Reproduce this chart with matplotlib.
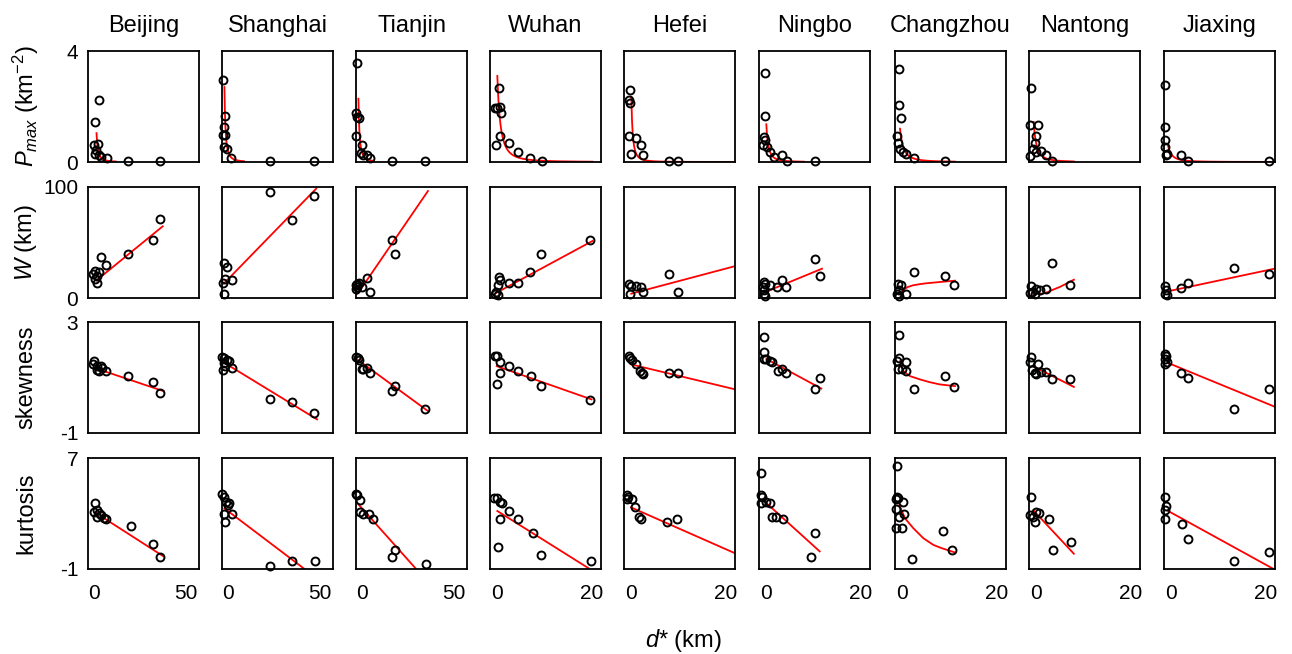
import numpy as np
import matplotlib
matplotlib.use("Agg")
import matplotlib.pyplot as plt

plt.rcParams['font.family'] = ['Liberation Sans', 'DejaVu Sans']
plt.rcParams['mathtext.fontset'] = 'custom'
plt.rcParams['mathtext.rm'] = 'Liberation Sans'
plt.rcParams['mathtext.it'] = 'Liberation Sans:italic'

# ---------------- data ----------------
cities = ["Beijing", "Shanghai", "Tianjin", "Wuhan", "Hefei", "Ningbo",
          "Changzhou", "Nantong", "Jiaxing"]
row_labels = [r"$P_{max}$ (km$^{-2}$)", r"$W$ (km)", "skewness", "kurtosis"]
x_label = r"$d$* (km)"
y_ticks = [[0, 4], [0, 100], [-1, 3], [-1, 7]]
x_ticks_large = [0, 50]
x_ticks_small = [0, 20]

# Row 1: P_max
d_pmax = [
    [2.9, 0.7, 0.1, 2.3, 1.4, 0.7, 2.9, 3.8, 7.1, 18.5, 35.9],
    [-2.45, -1.53, -1.71, -2.45, -1.16, -2.08, -0.24, 1.96, 22.7, 46.6],
    [-2.63, -3.0, -2.3, -1.2, -3.0, 0.1, -0.43, 1.04, 2.9, 4.7, 16.7, 34.5],
    [0.48, -0.44, 0.05, 0.62, 0.76, 0.62, -0.23, 2.52, 4.36, 6.97, 9.44],
    [-0.3, -0.44, -0.16, -0.44, 1.11, 2.03, 0.05, 2.52, 8.03, 9.94],
    [-0.3, -0.3, -0.51, -0.16, -0.65, 0.19, 0.9, 1.75, 3.37, 4.43, 10.43],
    [-0.65, -0.65, -0.23, -1.0, -0.79, -0.44, 0.12, 0.83, 2.6, 9.1],
    [-1.15, -1.36, 0.41, -0.09, -0.3, -0.65, -1.22, -0.09, 1.11, 2.17, 3.44],
    [-1.29, -1.29, -1.29, -1.29, -1.08, -0.79, 2.03, 3.65, 20.7],
]
pmax = [
    [2.22, 1.43, 0.6, 0.66, 0.45, 0.3, 0.24, 0.18, 0.13, 0.04, 0.04],
    [2.95, 1.66, 1.26, 0.96, 0.96, 0.54, 0.47, 0.15, 0.04, 0.04],
    [3.58, 1.75, 1.63, 1.57, 0.93, 0.6, 0.32, 0.24, 0.24, 0.15, 0.04, 0.04],
    [2.68, 1.93, 1.93, 1.99, 1.75, 0.93, 0.62, 0.68, 0.36, 0.15, 0.04],
    [2.61, 2.23, 2.13, 0.93, 0.88, 0.6, 0.3, 0.24, 0.04, 0.04],
    [3.2, 1.65, 0.9, 0.78, 0.63, 0.54, 0.36, 0.18, 0.24, 0.04, 0.04],
    [3.36, 2.06, 1.57, 0.93, 0.68, 0.47, 0.36, 0.28, 0.15, 0.04],
    [2.68, 1.33, 1.33, 0.93, 0.68, 0.47, 0.2, 0.36, 0.4, 0.24, 0.04],
    [2.79, 1.27, 0.78, 0.54, 0.24, 0.3, 0.24, 0.04, 0.04],
]
# decay fit: start x, end x, start value, scale
pmax_fit_xs = [1.6, -1.7, -1.7, 0.05, 0.05, 0.05, -0.44, -0.51, -0.72]
pmax_fit_xe = [12.0, 8.9, 6.5, 20.2, 22.1, 8.0, 11.2, 8.0, 21.7]
pmax_fit_y0 = [1.04, 2.70, 2.28, 3.10, 2.34, 1.36, 1.20, 1.44, 0.65]
pmax_fit_c = [1.6, 1.2, 1.25, 1.3, 0.575, 0.83, 1.4, 1.14, 1.47]

# Row 2: W
d_w = [
    [-0.2, 1.0, 2.0, 0.7, 2.0, 3.1, 4.2, 6.6, 18.5, 32.3, 35.9],
    [-1.71, -0.24, -2.45, -1.16, 2.14, -1.71, 22.7, 34.7, 46.6],
    [-3.0, -2.3, -2.6, -1.2, 2.9, 4.3, 16.7, 17.9, -3.2, 0.1],
    [0.48, 0.62, 0.27, -0.23, 0.27, -0.44, 2.52, 4.36, 6.97, 9.3, 19.7],
    [-0.44, 0.05, -0.3, 1.11, 2.17, 2.52, 8.03, 9.94],
    [-0.51, -0.16, -0.65, -0.37, -0.51, -0.3, 0.9, 2.31, 3.37, 4.29, 10.43, 11.35],
    [-0.79, -0.3, -0.58, -1.0, -0.58, 0.83, 2.6, 9.1, 11.0],
    [-1.15, -1.36, -0.79, 0.05, 0.76, 2.17, 3.44, 7.1, -0.3],
    [-1.29, -1.08, -1.29, -0.94, 2.03, 3.65, 13.3, 20.7],
]
w = [
    [21.9, 24.3, 19.5, 17.4, 13.5, 23.4, 36.9, 29.4, 39.9, 52.0, 71.5],
    [31.5, 27.9, 13.5, 17.4, 15.9, 3.9, 95.5, 70.0, 91.6],
    [11.4, 9.9, 12.9, 13.5, 18.3, 5.4, 52.0, 39.9, 8.4, 9.9],
    [18.9, 15.9, 11.4, 5.4, 3.0, 3.9, 13.5, 13.5, 23.4, 39.9, 52.0],
    [12.3, 10.5, 3.9, 10.5, 9.9, 5.4, 21.9, 5.4],
    [14.4, 12.9, 9.9, 6.9, 3.9, 1.5, 11.4, 9.9, 16.5, 9.9, 35.4, 19.5],
    [12.3, 11.4, 7.5, 3.9, 1.5, 3.3, 23.4, 19.5, 11.4],
    [10.5, 4.5, 5.4, 8.4, 7.5, 8.4, 31.5, 11.4, 3.9],
    [10.5, 7.5, 3.9, 2.4, 9.3, 13.5, 27.3, 21.3],
]
w_fit_x = [
    [1.6, 37.4], [-2.08, 47.9], [-2.1, 35.9], [-0.23, 20.2], [0.05, 22.1],
    [-0.16, 11.84],
    [-0.58, 0.3, 1.2, 2.3, 3.5, 5.0, 6.5, 8.0, 9.5, 11.2],
    [-0.65, 1.47, 2.5, 3.6, 5.0, 6.4, 8.0],
    [-0.72, 21.9],
]
w_fit_y = [
    [15.9, 64.6], [12.9, 98.5], [3.9, 96.4], [4.5, 51.4], [3.9, 28.8],
    [5.4, 26.4],
    [3.9, 7.5, 9.9, 11.4, 12.3, 13.2, 13.8, 14.4, 15.0, 15.6],
    [3.9, 3.9, 5.4, 7.5, 9.9, 12.9, 16.5],
    [6.0, 26.4],
]

# Row 3: skewness
d_skew = [
    [0.5, -0.2, 2.0, 3.8, 4.7, 2.0, 2.9, 6.6, 18.5, 32.3, 35.9],
    [-2.8, -1.71, -0.24, -2.08, -1.16, 0.67, -2.45, 2.5, 22.7, 34.7, 46.6],
    [-3.0, -1.7, -1.2, 0.1, 1.0, 2.9, 4.3, 16.7, 17.9, 34.5],
    [-0.44, -0.09, 0.62, 0.62, 0.05, 2.52, 4.36, 7.1, 9.3, 19.7],
    [-0.44, -0.16, 0.26, 1.11, 1.96, 2.38, 2.52, 8.03, 9.94],
    [-0.37, -0.37, -0.51, 0.05, 0.76, 1.25, 2.45, 3.37, 4.29, 10.43, 11.35],
    [-0.65, -0.58, -1.0, -0.79, -0.09, 0.83, 0.83, 2.6, 9.1, 11.0],
    [-1.15, -1.36, 0.41, -0.79, -0.09, -0.3, 1.11, 2.17, 3.44, 7.1],
    [-1.29, -1.08, -1.29, -0.94, -1.29, 2.03, 3.51, 13.3, 20.7],
]
skew = [
    [1.59, 1.47, 1.41, 1.43, 1.35, 1.26, 1.23, 1.23, 1.07, 0.84, 0.45],
    [1.73, 1.71, 1.62, 1.53, 1.41, 1.59, 1.26, 1.35, 0.21, 0.13, -0.29],
    [1.73, 1.71, 1.62, 1.31, 1.29, 1.35, 1.17, 0.51, 0.69, -0.13],
    [1.79, 1.77, 1.55, 1.17, 0.75, 1.41, 1.23, 1.07, 0.69, 0.19],
    [1.79, 1.71, 1.62, 1.50, 1.23, 1.17, 1.14, 1.17, 1.17],
    [2.45, 1.91, 1.65, 1.67, 1.59, 1.55, 1.23, 1.31, 1.17, 0.59, 0.99],
    [2.52, 1.71, 1.59, 1.31, 1.29, 1.55, 1.23, 0.59, 1.07, 0.66],
    [1.73, 1.55, 1.50, 1.26, 1.11, 1.17, 1.19, 1.19, 0.93, 0.93],
    [1.83, 1.77, 1.65, 1.55, 1.47, 1.17, 0.99, -0.13, 0.59],
]
skew_fit_x = [
    [1.6, 37.8], [-1.71, 48.4], [-2.3, 35.9], [-0.09, 20.0], [0.05, 22.1],
    [0.05, 11.7],
    [-0.44, 0.26, 1.68, 3.8, 5.9, 8.0, 11.2],
    [-0.65, 8.0],
    [-0.72, 21.9],
]
skew_fit_y = [
    [1.32, 0.51], [1.53, -0.51], [1.65, -0.21], [1.41, 0.21], [1.47, 0.57],
    [1.67, 0.60],
    [1.59, 1.23, 1.05, 0.93, 0.83, 0.75, 0.69],
    [1.41, 0.66],
    [1.53, -0.05],
]

# Row 4: kurtosis
d_kurt = [
    [0.7, 0.1, 2.0, 2.9, 1.6, 3.8, 5.6, 6.6, 20.3, 32.3, 35.9],
    [-2.8, -1.7, -0.6, 0.1, 0.67, -2.1, 2.5, -1.2, 22.7, 35.0, 47.0],
    [-3.0, -2.3, -0.8, -0.8, 1.0, 3.8, 6.2, 16.7, 17.9, 35.0],
    [-0.65, -0.09, 0.62, 0.97, 0.62, 2.52, 4.5, 7.7, 0.27, 9.4, 19.8],
    [-0.94, -0.65, -0.79, 0.27, 0.83, 1.68, 2.03, 7.5, 9.8],
    [-1.15, -1.15, -0.86, -1.15, 0.05, 0.76, 1.25, 2.17, 3.58, 10.43, 9.44],
    [-1.0, -1.0, -1.29, -0.79, -1.29, 0.27, 0.48, -0.58, -1.29, -0.09, 2.17, 8.74, 10.5],
    [-1.15, -1.36, -0.65, 0.05, 0.62, -0.3, 2.74, 3.58, 7.3],
    [-1.29, -1.08, -1.29, -1.29, 2.24, 3.65, 13.3, 20.7],
]
kurt = [
    [3.73, 3.13, 3.25, 3.01, 2.73, 2.89, 2.65, 2.58, 2.10, 0.81, -0.14],
    [4.37, 4.16, 3.85, 3.61, 3.73, 2.96, 2.96, 2.41, -0.76, -0.45, -0.45],
    [4.37, 4.33, 3.97, 3.13, 2.96, 2.96, 2.58, -0.14, 0.39, -0.62],
    [4.09, 4.09, 3.85, 3.73, 2.58, 3.18, 2.58, 1.63, 0.62, 0.03, -0.45],
    [4.33, 4.21, 4.01, 4.01, 3.44, 2.73, 2.58, 2.41, 2.58],
    [5.93, 4.33, 4.21, 3.73, 3.85, 3.73, 2.73, 2.73, 2.58, 1.63, -0.14],
    [6.40, 4.16, 4.01, 4.09, 3.32, 3.85, 2.96, 2.73, 1.94, 1.94, -0.28, 1.77, 0.34],
    [4.16, 2.89, 2.73, 3.13, 3.01, 2.41, 2.58, 0.34, 0.98],
    [4.21, 3.54, 3.25, 2.58, 2.25, 1.15, -0.45, 0.19],
]
kurt_fit_x = [
    [1.6, 37.8], [-1.7, 41.6], [-1.7, 29.5], [0.05, 19.3], [0.0, 21.9],
    [-0.65, 11.35],
    [-0.58, 0.62, 2.38, 4.5, 6.6, 8.4, 11.2],
    [-0.51, 8.0],
    [-0.72, 21.7],
]
kurt_fit_y = [
    [3.01, -0.09], [3.37, -1.0], [3.66, -1.0], [3.18, -0.93], [3.44, 0.15],
    [3.97, 0.27],
    [3.61, 2.65, 1.94, 1.22, 0.74, 0.50, 0.19],
    [3.2, 0.10],
    [3.20, -1.0],
]

# ---------------- layout ----------------
W, H = 1292, 654
fig = plt.figure(figsize=(W / 100, H / 100), dpi=100)
col_left = [88, 222, 356, 490, 624, 759, 895, 1029, 1164]
row_top = [51, 187, 322, 458]
pw, ph = 111, 111
xlim_large = (-3, 57)
xlim_small = (-1.5, 22)

pts = [(d_pmax, pmax), (d_w, w), (d_skew, skew), (d_kurt, kurt)]
fits = [None, (w_fit_x, w_fit_y), (skew_fit_x, skew_fit_y), (kurt_fit_x, kurt_fit_y)]

for r in range(4):
    for c in range(9):
        ax = fig.add_axes([col_left[c] / W, 1 - (row_top[r] + ph) / H, pw / W, ph / H])
        large = c < 3
        ax.set_xlim(*(xlim_large if large else xlim_small))
        ax.set_ylim(y_ticks[r][0], y_ticks[r][1])
        for s in ax.spines.values():
            s.set_linewidth(1.3)
            s.set_color('black')
        # fit
        if r == 0:
            xs, xe = pmax_fit_xs[c], pmax_fit_xe[c]
            y0, cc = pmax_fit_y0[c], pmax_fit_c[c]
            xx = np.linspace(xs, xe, 300)
            yy = y0 * (cc / (xx - xs + cc)) ** 2
            ax.plot(xx, yy, color='red', lw=1.3, zorder=2)
        else:
            fx, fy = fits[r]
            ax.plot(fx[c], fy[c], color='red', lw=1.3, zorder=2)
        # points
        dx, vy = pts[r]
        ax.plot(dx[c], vy[c], linestyle='none', marker='o', ms=5.7,
                mfc='none', mec='black', mew=1.4, clip_on=False, zorder=3)
        # ticks
        ax.tick_params(length=0, labelsize=15, pad=7)
        if c == 0:
            ax.set_yticks(y_ticks[r])
            ax.set_yticklabels([str(v) for v in y_ticks[r]])
        else:
            ax.set_yticks([])
        if r == 3:
            xt = x_ticks_large if large else x_ticks_small
            ax.set_xticks(xt)
            ax.set_xticklabels([str(v) for v in xt])
            ax.tick_params(axis='x', pad=11)
        else:
            ax.set_xticks([])

# titles
for c, name in enumerate(cities):
    fig.text((col_left[c] + pw / 2) / W, 1 - 32 / H, name, ha='center',
             va='baseline', fontsize=17)

# row labels
for r, lab in enumerate(row_labels):
    fig.text(26 / W, 1 - (row_top[r] + ph / 2) / H, lab, rotation=90,
             ha='center', va='center', fontsize=17)

fig.text(683 / W, 1 - 647 / H, x_label, ha='center', va='baseline', fontsize=17)

fig.savefig("out.png", dpi=100)
